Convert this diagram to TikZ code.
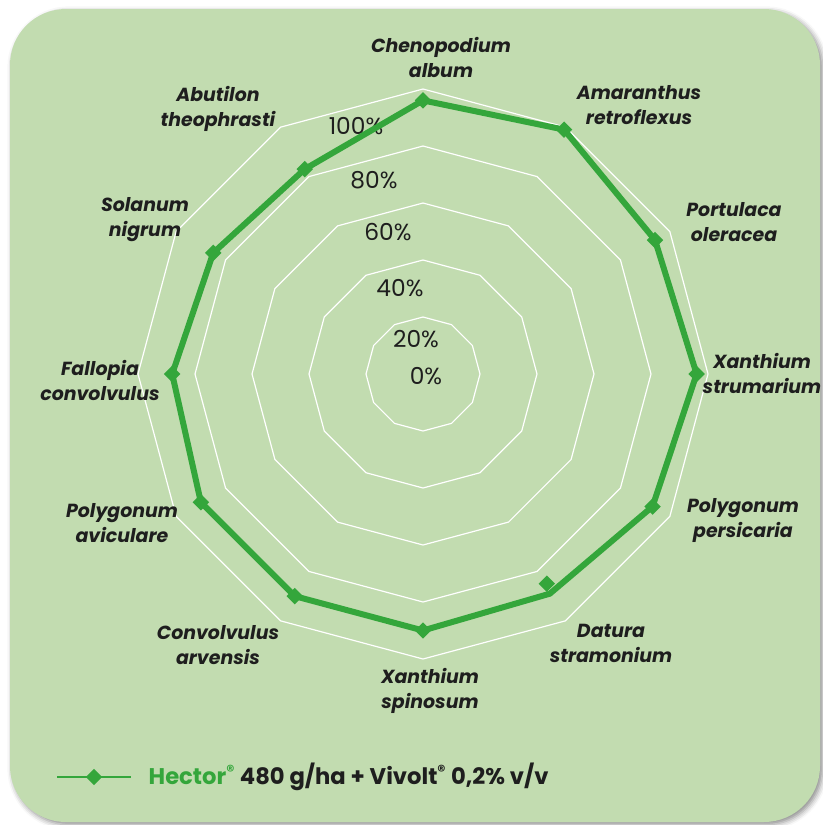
\documentclass[tikz,border=0pt]{standalone}
\usepackage{fontspec}
\setmainfont{Poppins}
\usetikzlibrary{shapes.geometric,shadows.blur}
\definecolor{cardGreen}{HTML}{C2DCB0}
\definecolor{lineGreen}{HTML}{34A63B}
\definecolor{textDark}{HTML}{1E1E1E}

\begin{document}
\begin{tikzpicture}
[x=0.75pt,y=-0.75pt,
  cardDecorate/.style={fill=cardGreen,rounded corners=42pt,
    blur shadow={shadow xshift=2pt,shadow yshift=-2pt,shadow blur radius=4pt,shadow opacity=45}},%
  gridDecorate/.style={draw=white,line width=0.9pt},%
  dataDecorate/.style={draw=lineGreen,line width=4.5pt},%
  markDecorate/.style={shape=diamond,fill=lineGreen,inner sep=0pt,minimum size=12.5pt},%
  labelDecorate/.style={align=center,text=textDark,
    font=\fontsize{14.2}{18.75}\selectfont\bfseries\itshape},%
  pctDecorate/.style={text=textDark,font=\fontsize{17.5}{18}\selectfont}]
\useasboundingbox (0,0) rectangle (822,825);
%% card
\path[cardDecorate] (10,9) rectangle (820,822);
%% grid rings
\begin{scope}[shift={(423,374)}]
\foreach \r in {57,114,171,228,285}
{
  \draw[gridDecorate] (-90:\r) \foreach \k in {1,...,11} { -- (-90+30*\k:\r) } -- cycle;
}
%% data points
\foreach \name/\k/\v in {
  chenopodium/0/96, amaranthus/1/99,  portulaca/2/94,
  strumarium/3/96,  persicaria/4/93,  datura/5/89,
  spinosum/6/90,    convolvulus/7/90, aviculare/8/90,
  fallopia/9/88,    solanum/10/85,    abutilon/11/83}
{
  \coordinate (p-\name) at (-90+30*\k:2.85*\v);
}
\end{scope}
%% percent labels
\foreach \pct/\x/\y in {
  100/356/126, 80/374/180, 60/388/232,
  40/400/288,  20/416/339, 0/426/376}
{
  \node (pct-\pct) at (\x,\y) [pctDecorate] {\pct\%};
}
%% data line
\draw[dataDecorate] (p-chenopodium) -- (p-amaranthus) -- (p-portulaca)
  -- (p-strumarium) -- (p-persicaria) -- (p-datura) -- (p-spinosum)
  -- (p-convolvulus) -- (p-aviculare) -- (p-fallopia) -- (p-solanum)
  -- (p-abutilon) -- cycle;
%% markers
\foreach \name in {chenopodium,amaranthus,portulaca,strumarium,persicaria,
  spinosum,convolvulus,aviculare,fallopia,solanum,abutilon}
{
  \node (m-\name) at (p-\name) [markDecorate] {};
}
\node (m-datura) at (p-datura) [markDecorate,xshift=-2.25pt,yshift=7.5pt] {};
%% species labels
\foreach \name/\x/\y/\txt in {
  chenopodium/441/57/{Chenopodium\\album},
  amaranthus/639/105/{Amaranthus\\retroflexus},
  portulaca/734/222/{Portulaca\\oleracea},
  strumarium/762/373/{Xanthium\\strumarium},
  persicaria/743/521/{Polygonum\\persicaria},
  datura/611/643/{Datura\\stramonium},
  spinosum/430/691/{Xanthium\\spinosum},
  convolvulus/218/645/{Convolvulus\\arvensis},
  aviculare/122/523/{Polygonum\\aviculare},
  fallopia/100/380/{Fallopia\\convolvulus},
  solanum/145/220/{Solanum\\nigrum},
  abutilon/218/109/{Abutilon\\theophrasti}}
{
  \node (l-\name) at (\x,\y) [labelDecorate] {\txt};
}
%% legend
\coordinate (leg-a) at (57,777);
\coordinate (leg-b) at (131,777);
\draw[draw=lineGreen,line width=2.2pt] (leg-a) -- (leg-b);
\node (leg-mark) at (94,777) [markDecorate] {};
\node (leg-text) at (144,777) [anchor=west,text=textDark,
  font=\fontsize{17}{18}\selectfont\bfseries]
  {\textcolor{lineGreen}{Hector\textsuperscript{®}} 480 g/ha + Vivolt\textsuperscript{®} 0,2\% v/v};
\end{tikzpicture}
\end{document}
